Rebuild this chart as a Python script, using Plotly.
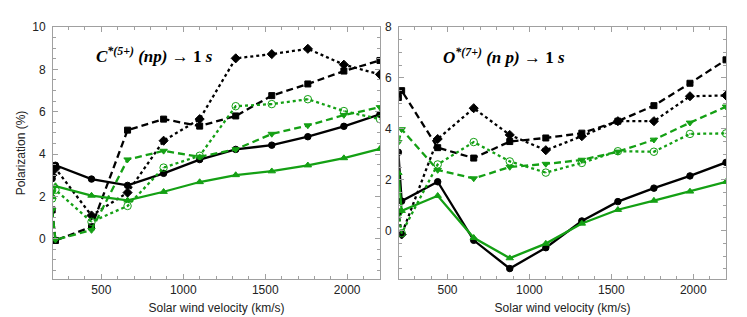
import plotly.graph_objects as go

# x values (km/s); first value lies just outside the visible range (clipped lead-in segment)
velocity = [200, 220, 440, 660, 880, 1100, 1320, 1540, 1760, 1980, 2200]

# Left panel: C*(5+) (np) -> 1s
c_black_solid = [2.84, 3.47, 2.82, 2.52, 3.09, 3.74, 4.22, 4.42, 4.82, 5.31, 5.88]
c_black_dot = [3.0, 3.32, 1.10, 2.18, 4.63, 5.65, 8.52, 8.72, 8.97, 8.22, 7.76]
c_black_dash = [1.36, -0.08, 0.56, 5.13, 5.65, 5.32, 5.80, 6.76, 7.31, 7.92, 8.42]
c_green_dash = [1.35, -0.05, 0.41, 3.74, 4.15, 3.87, 4.22, 4.95, 5.35, 5.84, 6.21]
c_green_dot = [1.9, 2.31, 0.80, 1.55, 3.36, 3.92, 6.26, 6.36, 6.59, 6.03, 5.65]
c_green_solid = [1.97, 2.49, 2.04, 1.81, 2.22, 2.68, 3.01, 3.19, 3.47, 3.81, 4.25]

# Right panel: O*(7+) (n p) -> 1s
o_black_solid = [3.08, 1.16, 1.92, -0.38, -1.49, -0.67, 0.38, 1.14, 1.67, 2.15, 2.68]
o_black_dot = [0.72, -0.15, 3.60, 4.81, 3.76, 3.16, 3.71, 4.30, 4.30, 5.28, 5.31]
o_black_dash = [5.23, 5.50, 3.26, 2.85, 3.50, 3.64, 3.83, 4.30, 4.91, 5.79, 6.71]
o_green_dash = [3.47, 3.98, 2.38, 2.05, 2.50, 2.62, 2.78, 3.10, 3.57, 4.24, 4.87]
o_green_dot = [0.70, -0.10, 2.60, 3.48, 2.72, 2.28, 2.66, 3.12, 3.10, 3.80, 3.82]
o_green_solid = [2.27, 0.78, 1.37, -0.28, -1.08, -0.51, 0.28, 0.82, 1.18, 1.54, 1.92]

x_ticks = [500, 1000, 1500, 2000]
left_y_ticks = [0, 2, 4, 6, 8, 10]
right_y_ticks = [0, 2, 4, 6, 8]

BLACK = "#000000"
GREEN = "#14a014"
DASH = "7px,4px"
DOT = "3px,3px"

styles = [
    (BLACK, "solid", "circle", 6.5),
    (BLACK, DOT, "diamond", 7),
    (BLACK, DASH, "square", 6),
    (GREEN, DASH, "triangle-down", 6.5),
    (GREEN, DOT, "circle-open-dot", 7.5),
    (GREEN, "solid", "triangle-up", 6.5),
]

fig = go.Figure()

def add_panel(series, xa, ya):
    for ys, (col, dash, sym, sz) in zip(series, styles):
        fig.add_trace(go.Scatter(
            x=velocity, y=ys, xaxis=xa, yaxis=ya, mode="lines+markers",
            line=dict(color=col, width=2.3, dash=dash),
            marker=dict(symbol=sym, size=sz, color=col,
                        line=dict(color=col, width=1)),
            cliponaxis=True, showlegend=False,
        ))

add_panel([c_black_solid, c_black_dot, c_black_dash, c_green_dash, c_green_dot, c_green_solid], "x", "y")
add_panel([o_black_solid, o_black_dot, o_black_dash, o_green_dash, o_green_dot, o_green_solid], "x2", "y2")

FRAME = "#a0a0a0"
tickfont = dict(family="Liberation Sans, Arial, sans-serif", size=12, color="#222")

def xax(domain, anchor):
    return dict(domain=domain, anchor=anchor, range=[205, 2200], tickvals=x_ticks,
                ticks="inside", ticklen=5, tickcolor=FRAME, showline=True, linecolor=FRAME,
                linewidth=1, mirror="ticks", showgrid=False, zeroline=False,
                minor=dict(dtick=100, tick0=0, ticks="inside", ticklen=3, tickcolor=FRAME),
                tickfont=tickfont,
                title=dict(text="Solar wind velocity (km/s)", standoff=7,
                           font=dict(family="Liberation Sans, Arial, sans-serif", size=12, color="#222")))

def yax(rng, vals, anchor, title=None):
    d = dict(range=rng, tickvals=vals, anchor=anchor, domain=[0, 1],
             ticks="inside", ticklen=5, tickcolor=FRAME, showline=True, linecolor=FRAME,
             linewidth=1, mirror="ticks", showgrid=False, zeroline=False,
             minor=dict(dtick=0.5, tick0=0, ticks="inside", ticklen=3, tickcolor=FRAME),
             tickfont=tickfont, ticklabelstandoff=4)
    if title:
        d["title"] = dict(text=title, standoff=4,
                          font=dict(family="Liberation Sans, Arial, sans-serif", size=12, color="#222"))
    return d

fig.update_layout(
    width=747, height=317,
    margin=dict(l=42, r=29, t=17, b=37),
    plot_bgcolor="white", paper_bgcolor="white",
    xaxis=xax([0, 0.4858], "y"),
    xaxis2=xax([0.5144, 1], "y2"),
    yaxis=yax([-1.9, 10], left_y_ticks, "x", "Polarization (%)"),
    yaxis2=yax([-1.9, 8], right_y_ticks, "x2"),
)

annot_font = dict(family="Liberation Serif, Times New Roman, serif", size=17, color="black")
fig.add_annotation(xref="x domain", yref="y domain", x=0.124, y=0.887, xanchor="left", yanchor="middle",
                   showarrow=False, font=annot_font,
                   text="<b><i>C</i></b><sup><b><i>*(5+)</i></b></sup><b><i> (np)</i> \u2192 1 <i>s</i></b>")
fig.add_annotation(xref="x2 domain", yref="y2 domain", x=0.127, y=0.883, xanchor="left", yanchor="middle",
                   showarrow=False, font=annot_font,
                   text="<b><i>O</i></b><sup><b><i>*(7+)</i></b></sup><b><i> (n p)</i> \u2192 1 <i>s</i></b>")

fig.write_html("out.html")
